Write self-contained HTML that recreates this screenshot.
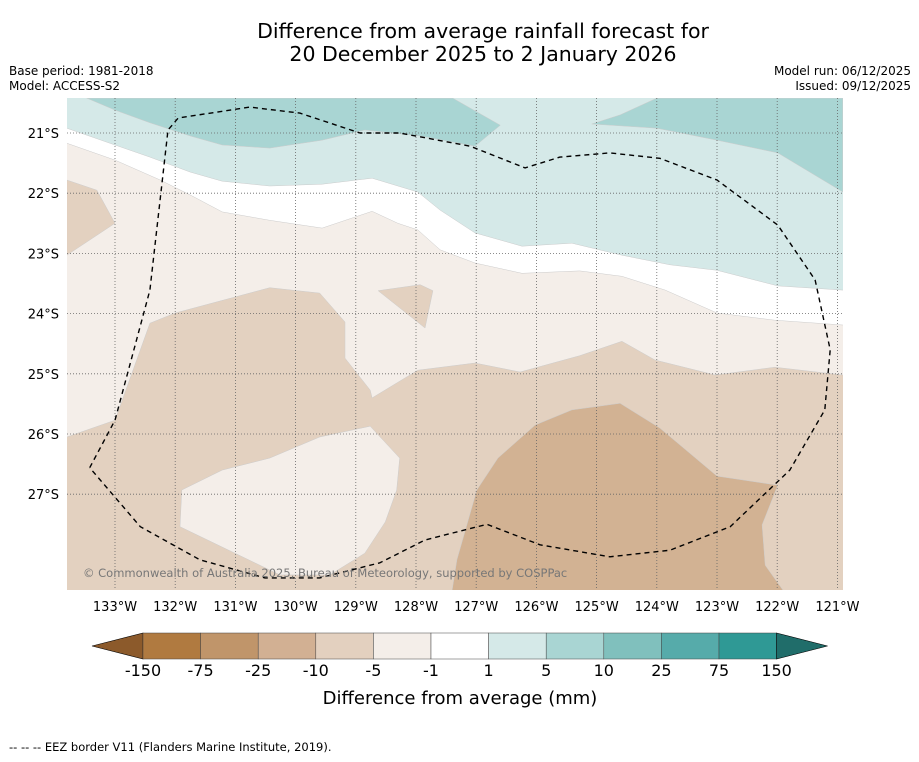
<!DOCTYPE html>
<html><head><meta charset="utf-8"><style>
body{margin:0;background:#fff;width:919px;height:758px;overflow:hidden;font-family:"DejaVu Sans","Liberation Sans",sans-serif}
</style></head><body>
<svg id="svg" width="919" height="758" xmlns="http://www.w3.org/2000/svg" font-family="DejaVu Sans, Liberation Sans, sans-serif">
<text x="483" y="38" font-size="20.5" text-anchor="middle">Difference from average rainfall forecast for</text>
<text x="483" y="61" font-size="20.5" text-anchor="middle">20 December 2025 to 2 January 2026</text>
<text x="9" y="75" font-size="12">Base period: 1981-2018</text>
<text x="9" y="90" font-size="12">Model: ACCESS-S2</text>
<text x="911" y="75" font-size="12" text-anchor="end">Model run: 06/12/2025</text>
<text x="911" y="90" font-size="12" text-anchor="end">Issued: 09/12/2025</text>
<g id="map"></g>
<g id="grid"></g>
<g id="eez"></g>
<text x="83" y="577" font-size="11.5" fill="#777">© Commonwealth of Australia 2025, Bureau of Meteorology, supported by COSPPac</text>
<g id="axes"></g>
<g id="cbar"></g>
<text x="460" y="704" font-size="18" text-anchor="middle">Difference from average (mm)</text>
<text x="9" y="751" font-size="11.5">--  --  -- EEZ border V11 (Flanders Marine Institute, 2019).</text>
</svg>
<script>
const lonTicks=[-133,-132,-131,-130,-129,-128,-127,-126,-125,-124,-123,-122,-121];
const latTicks=[-21,-22,-23,-24,-25,-26,-27];
const cbarLabels=["-150","-75","-25","-10","-5","-1","1","5","10","25","75","150"];
const cbarColors=["#b07a40","#c0956a","#d2b093","#e3d0bf","#f4eee9","#ffffff","#d5e9e8","#a9d5d3","#80c0bd","#56abaa","#2f9995"];
const beigeBoundary=[[-133.8,-26.05],[-133,-25.77],[-132.42,-24.16],[-132,-23.99],[-130.43,-23.57],[-129.6,-23.66],[-129.18,-24.14],[-129.18,-24.74],[-128.76,-25.27],[-128.73,-25.4],[-127.97,-24.94],[-127.02,-24.82],[-126.27,-24.97],[-125.28,-24.7],[-124.58,-24.46],[-124.03,-24.77],[-123.03,-25.02],[-122.04,-24.89],[-120.91,-25.02]];
const tanPatchLeft=[[-133.8,-21.78],[-133.3,-21.95],[-133,-22.5],[-133.8,-23.03]];
const tanPatchMid=[[-128.63,-23.62],[-127.93,-23.52],[-127.72,-23.62],[-127.85,-24.24]];
const lightPatchSouth=[[-131.89,-26.93],[-131.22,-26.6],[-130.43,-26.4],[-129.6,-26.05],[-128.76,-25.87],[-128.27,-26.4],[-128.32,-26.93],[-128.51,-27.46],[-128.85,-27.98],[-129.43,-28.34],[-130.26,-28.34],[-131.92,-27.54]];
const darkTanPatch=[[-127.4,-28.6],[-127.32,-28.09],[-126.99,-26.93],[-126.64,-26.4],[-126.02,-25.85],[-125.41,-25.6],[-124.61,-25.49],[-123.95,-25.9],[-123,-26.7],[-121.99,-26.85],[-122.25,-27.51],[-122.2,-28.18],[-121.9,-28.6]];
const whiteBoundary=[[-133.8,-21.17],[-133,-21.45],[-132.25,-21.78],[-131.75,-22.03],[-131.22,-22.31],[-130.43,-22.45],[-129.56,-22.58],[-128.73,-22.3],[-128.3,-22.5],[-127.97,-22.61],[-127.6,-22.94],[-127.02,-23.16],[-126.24,-23.33],[-125.28,-23.29],[-124.58,-23.38],[-123.86,-23.61],[-123,-23.99],[-122.04,-24.11],[-120.91,-24.19]];
const tealLightBoundary=[[-133.8,-20.92],[-133,-21.2],[-132.42,-21.4],[-131.75,-21.65],[-131.22,-21.8],[-130.43,-21.88],[-129.56,-21.85],[-128.73,-21.75],[-127.97,-21.98],[-127.6,-22.28],[-127.02,-22.66],[-126.24,-22.88],[-125.41,-22.83],[-124.58,-23.03],[-123.78,-23.19],[-123,-23.28],[-121.99,-23.54],[-120.91,-23.61]];
const tealPatchWest=[[-133.47,-20.42],[-133,-20.62],[-132.42,-20.83],[-131.75,-21.05],[-131.22,-21.2],[-130.43,-21.25],[-129.56,-21.12],[-128.85,-20.95],[-127.93,-21.05],[-127.02,-21.22],[-126.6,-20.87],[-127.39,-20.42]];
const tealPatchEast=[[-125.08,-20.85],[-124.61,-20.7],[-124,-20.42],[-120.91,-20.42],[-120.91,-21.98],[-121.29,-21.75],[-121.99,-21.33],[-123,-21.12],[-124,-20.92]];
const eezLine=[[-133.42,-26.56],[-133,-25.77],[-132.42,-23.61],[-132.12,-20.95],[-131.95,-20.75],[-130.76,-20.57],[-129.93,-20.67],[-128.93,-21.0],[-128.27,-21.0],[-127.1,-21.22],[-126.19,-21.58],[-125.61,-21.4],[-124.78,-21.33],[-123.95,-21.42],[-123,-21.78],[-121.99,-22.53],[-121.37,-23.44],[-121.12,-24.6],[-121.21,-25.6],[-121.79,-26.6],[-122.78,-27.54],[-123.78,-27.93],[-124.78,-28.04],[-125.94,-27.84],[-126.82,-27.5],[-127.85,-27.76],[-128.6,-28.14],[-129.6,-28.39],[-130.51,-28.39],[-131.59,-28.09],[-132.58,-27.54],[-133.42,-26.56]];

const NS="http://www.w3.org/2000/svg";
const X0=67,X1=843,Y0=98,Y1=590;
const scale=60.2;
function xs(lon){return 115+(lon+133)*scale;}
function ys(lat){return 133+(-21-lat)*scale;}
function mk(tag,attrs,parent){const e=document.createElementNS(NS,tag);for(const k in attrs)e.setAttribute(k,attrs[k]);parent.appendChild(e);return e;}
function pts(a){return a.map(p=>xs(p[0]).toFixed(1)+","+ys(p[1]).toFixed(1)).join(" ");}
const map=document.getElementById('map');
const cp=mk('clipPath',{id:'clip'},document.getElementById('svg'));
mk('rect',{x:X0,y:Y0,width:X1-X0,height:Y1-Y0},cp);
map.setAttribute('clip-path','url(#clip)');
let r=mk('rect',{x:X0,y:Y0,width:X1-X0,height:Y1-Y0,fill:"#e3d1c0"},map);


function band(boundary,color,name){
  const top=[[boundary[boundary.length-1][0]+1,-20],[boundary[0][0]-1,-20]];
  const ext=[[boundary[0][0]-1,boundary[0][1]]].concat(boundary,[[boundary[boundary.length-1][0]+1,boundary[boundary.length-1][1]]],top);
  const p=mk('polygon',{points:pts(ext),fill:color,stroke:"#ccc",'stroke-width':0.5},map);
  
  
}
function patch(a,color,name){
  const p=mk('polygon',{points:pts(a),fill:color,stroke:"#ccc",'stroke-width':0.5},map);
  
  
}
band(beigeBoundary,"#f4eee9","band-minus5-minus1");
patch(tanPatchLeft,"#e3d1c0","patch-tan-west");
patch(tanPatchMid,"#e3d1c0","patch-tan-central");
patch(lightPatchSouth,"#f4eee9","patch-light-south");
patch(darkTanPatch,"#d2b293","patch-minus25-minus10");
band(whiteBoundary,"#ffffff","band-minus1-1");
band(tealLightBoundary,"#d5e9e8","band-1-5");
patch(tealPatchWest,"#a9d5d3","patch-5-10-west");
patch(tealPatchEast,"#a9d5d3","patch-5-10-east");
const grid=document.getElementById('grid');
lonTicks.forEach(l=>{const g=mk('line',{x1:xs(l),x2:xs(l),y1:Y0,y2:Y1,stroke:"#666",'stroke-width':0.8,'stroke-dasharray':"1,2"},grid);

});
latTicks.forEach(l=>{const g=mk('line',{x1:X0,x2:X1,y1:ys(l),y2:ys(l),stroke:"#666",'stroke-width':0.8,'stroke-dasharray':"1,2"},grid);

});
const eez=mk('polyline',{points:pts(eezLine),fill:"none",stroke:"#000",'stroke-width':1.4,'stroke-dasharray':"5,4",'stroke-linejoin':'round'},document.getElementById('eez'));


const axes=document.getElementById('axes');
lonTicks.forEach(l=>{const t=mk('text',{x:xs(l),y:611,'font-size':13,'text-anchor':'middle'},axes);t.textContent=Math.abs(l)+"°W";

});
latTicks.forEach(l=>{const t=mk('text',{x:59,y:ys(l)+5,'font-size':13,'text-anchor':'end'},axes);t.textContent=Math.abs(l)+"°S";

});
const cb=document.getElementById('cbar');
const cx0=143,cw=57.6,cy=633,ch=26;
let lt=mk('polygon',{points:`92,${cy+ch/2} ${cx0},${cy} ${cx0},${cy+ch}`,fill:"#8c5a2b",stroke:"#000",'stroke-width':0.6},cb);


cbarColors.forEach((c,i)=>{const b=mk('rect',{x:cx0+i*cw,y:cy,width:cw,height:ch,fill:c,stroke:"#444",'stroke-width':0.5},cb);

});
const cx1=cx0+cbarColors.length*cw;
let rt=mk('polygon',{points:`${cx1},${cy} ${cx1+51},${cy+ch/2} ${cx1},${cy+ch}`,fill:"#206d6a",stroke:"#000",'stroke-width':0.6},cb);


cbarLabels.forEach((s,i)=>{const t=mk('text',{x:cx0+i*cw,y:676,'font-size':16,'text-anchor':'middle'},cb);t.textContent=s;

});
</script>
</body></html>
